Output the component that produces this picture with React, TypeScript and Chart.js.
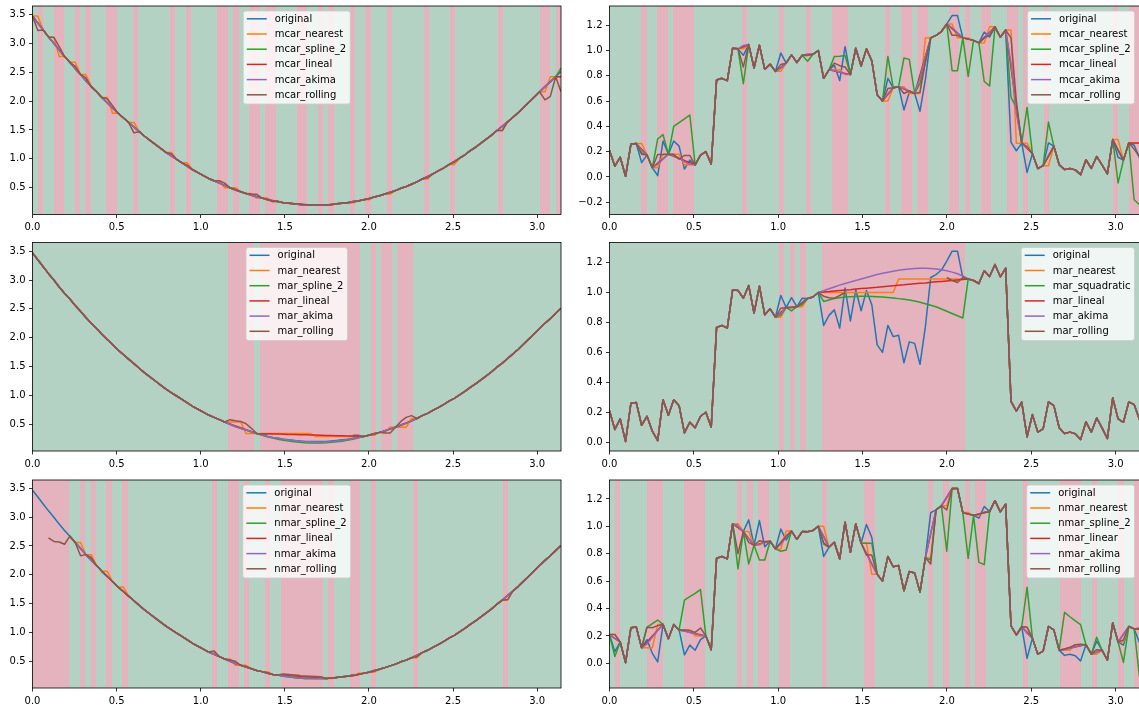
import React, { useEffect, useRef } from 'react';
import { Chart, registerables } from 'chart.js';

Chart.register(...registerables);

const FONT = "'DejaVu Sans', 'Liberation Sans', sans-serif";
const POINTS = 100;
const xs = Array.from({ length: POINTS }, (_, i) => (i * Math.PI) / (POINTS - 1));

const xTickValues = [0, 0.5, 1, 1.5, 2, 2.5, 3];
const curveTickValues = [0.5, 1, 1.5, 2, 2.5, 3, 3.5];
const noisyTickValuesTop = [-0.2, 0, 0.2, 0.4, 0.6, 0.8, 1, 1.2];
const noisyTickValues = [0, 0.2, 0.4, 0.6, 0.8, 1, 1.2];

const SERIES_COLORS = ['#1f77b4', '#ff7f0e', '#2ca02c', '#d62728', '#9467bd', '#8c564b'];
const MISSING_FILL = 'rgb(228,179,190)';
const PRESENT_FILL = 'rgb(179,210,195)';

// ---- original signals ----
const curveOriginal = [
  3.47, 3.35, 3.23, 3.11, 3.0, 2.88, 2.77, 2.67, 2.56, 2.46,
  2.35, 2.25, 2.16, 2.06, 1.97, 1.88, 1.79, 1.71, 1.63, 1.55,
  1.47, 1.39, 1.32, 1.25, 1.18, 1.11, 1.05, 0.99, 0.93, 0.87,
  0.81, 0.76, 0.71, 0.66, 0.62, 0.58, 0.54, 0.5, 0.46, 0.43,
  0.4, 0.37, 0.34, 0.32, 0.29, 0.27, 0.26, 0.24, 0.23, 0.22,
  0.21, 0.2, 0.2, 0.2, 0.2, 0.2, 0.21, 0.22, 0.23, 0.24,
  0.26, 0.27, 0.29, 0.31, 0.34, 0.36, 0.39, 0.42, 0.45, 0.49,
  0.52, 0.56, 0.6, 0.65, 0.69, 0.74, 0.79, 0.84, 0.9, 0.95,
  1.01, 1.07, 1.14, 1.2, 1.27, 1.34, 1.41, 1.49, 1.56, 1.64,
  1.72, 1.8, 1.89, 1.98, 2.07, 2.16, 2.25, 2.33, 2.42, 2.51,
];

const noisyOriginal = [
  0.21, 0.085, 0.156, 0.005, 0.26, 0.265, 0.113, 0.173, 0.073, 0.01,
  0.284, 0.18, 0.284, 0.244, 0.062, 0.133, 0.096, 0.173, 0.2, 0.1,
  0.767, 0.78, 0.762, 1.018, 1.013, 0.962, 1.047, 0.862, 1.042, 0.851,
  0.891, 0.835, 0.98, 0.9, 0.965, 0.905, 0.962, 0.96, 0.97, 1.0,
  0.78, 0.847, 0.884, 0.762, 1.03, 0.81, 1.018, 0.878, 1.013, 0.918,
  0.65, 0.6, 0.78, 0.705, 0.714, 0.53, 0.67, 0.66, 0.52, 0.77,
  1.1, 1.12, 1.15, 1.21, 1.276, 1.276, 1.1, 1.09, 1.08, 1.06,
  1.145, 1.107, 1.187, 1.105, 1.162, 0.273, 0.207, 0.267, 0.036, 0.184,
  0.067, 0.089, 0.269, 0.244, 0.096, 0.058, 0.067, 0.056, 0.018, 0.136,
  0.067, 0.162, 0.096, 0.024, 0.296, 0.156, 0.133, 0.269, 0.251, 0.151,
];

// ---- MCAR on the curve ----
const mcarCurveMissing = [1, 4, 5, 8, 10, 14, 15, 19, 26, 29, 35, 36, 38, 41, 42, 44, 45, 50, 51, 54, 56, 60, 63, 67, 74, 79, 88, 96, 97, 99];
const mcarCurveNearest = [3.47, 3.11, 2.77, 2.67, 2.46, 2.06, 1.79, 1.63, 1.11, 0.93, 0.62, 0.5, 0.5, 0.4, 0.32, 0.32, 0.26, 0.22, 0.2, 0.2, 0.2, 0.24, 0.29, 0.39, 0.65, 0.9, 1.49, 2.16, 2.42, 2.42];
const mcarCurveSpline = [3.35, 3.0, 2.88, 2.56, 2.35, 1.97, 1.88, 1.55, 1.05, 0.87, 0.58, 0.54, 0.46, 0.37, 0.34, 0.29, 0.27, 0.21, 0.2, 0.2, 0.21, 0.26, 0.31, 0.42, 0.69, 0.95, 1.56, 2.25, 2.34, 2.57];
const mcarCurveLineal = [3.35, 3.0, 2.89, 2.565, 2.355, 1.97, 1.88, 1.55, 1.05, 0.87, 0.58, 0.54, 0.465, 0.373, 0.347, 0.293, 0.277, 0.21, 0.2, 0.2, 0.205, 0.255, 0.315, 0.42, 0.695, 0.955, 1.565, 2.25, 2.335, 2.42];
const mcarCurveAkima = [3.35, 3.0, 2.88, 2.56, 2.35, 1.97, 1.88, 1.55, 1.05, 0.87, 0.58, 0.54, 0.46, 0.37, 0.34, 0.29, 0.27, 0.21, 0.2, 0.2, 0.21, 0.26, 0.31, 0.42, 0.69, 0.95, 1.56, 2.25, 2.34, null];
const mcarCurveRolling = [3.22, 3.1, 2.94, 2.6, 2.4, 2.04, 1.92, 1.45, 1.09, 0.89, 0.62, 0.58, 0.47, 0.39, 0.385, 0.3, 0.26, 0.22, 0.21, 0.2, 0.21, 0.25, 0.31, 0.41, 0.67, 0.94, 1.49, 2.02, 2.08, 2.16];

// ---- MAR on the curve ----
const marCurveMissing = [37, 38, 39, 40, 41, 43, 44, 45, 46, 47, 48, 49, 50, 51, 52, 53, 54, 55, 56, 57, 58, 59, 60, 61, 64, 66, 67, 69, 70, 71];
const marCurveNearest = [0.54, 0.54, 0.54, 0.34, 0.34, 0.34, 0.34, 0.34, 0.34, 0.34, 0.34, 0.34, 0.34, 0.34, 0.34, 0.29, 0.29, 0.29, 0.29, 0.29, 0.29, 0.29, 0.29, 0.29, 0.31, 0.36, 0.45, 0.45, 0.45, 0.6];
const marCurveSpline = [0.5, 0.46, 0.43, 0.4, 0.37, 0.31, 0.285, 0.262, 0.242, 0.225, 0.21, 0.198, 0.188, 0.181, 0.177, 0.175, 0.176, 0.18, 0.187, 0.196, 0.208, 0.222, 0.24, 0.26, 0.335, 0.385, 0.415, 0.48, 0.515, 0.555];
const marCurveLineal = [0.507, 0.473, 0.44, 0.407, 0.373, 0.3375, 0.335, 0.3325, 0.33, 0.3275, 0.325, 0.3225, 0.32, 0.3175, 0.315, 0.3125, 0.31, 0.3075, 0.305, 0.3025, 0.3, 0.2975, 0.295, 0.2925, 0.335, 0.39, 0.42, 0.4875, 0.525, 0.5625];
const marCurveAkima = [0.5, 0.46, 0.43, 0.4, 0.37, 0.318, 0.292, 0.272, 0.257, 0.242, 0.229, 0.218, 0.208, 0.201, 0.197, 0.195, 0.195, 0.197, 0.203, 0.212, 0.224, 0.238, 0.255, 0.272, 0.335, 0.39, 0.42, 0.49, 0.52, 0.56];
const marCurveRolling = [0.58, 0.56, 0.55, 0.51, 0.43, 0.33, 0.33, null, null, null, null, null, null, null, null, null, null, null, null, null, null, null, 0.31, 0.31, 0.33, 0.35, 0.35, 0.55, 0.62, 0.65];

// ---- NMAR on the curve ----
const nmarCurveMissing = [0, 1, 2, 3, 4, 5, 6, 9, 11, 14, 17, 34, 37, 38, 40, 44, 47, 48, 49, 50, 51, 52, 53, 54, 56, 60, 61, 64, 72, 89];
const nmarCurveNearest = [null, null, null, null, null, null, null, 2.56, 2.35, 2.06, 1.79, 0.66, 0.54, 0.43, 0.43, 0.32, 0.26, 0.26, 0.26, 0.26, 0.2, 0.2, 0.2, 0.2, 0.2, 0.24, 0.29, 0.31, 0.56, 1.56];
const nmarCurveSpline = [null, null, null, null, null, null, null, 2.46, 2.25, 1.97, 1.71, 0.62, 0.5, 0.46, 0.4, 0.29, 0.24, 0.23, 0.22, 0.21, 0.2, 0.2, 0.2, 0.2, 0.21, 0.26, 0.27, 0.34, 0.6, 1.64];
const nmarCurveLineal = [null, null, null, null, null, null, null, 2.455, 2.255, 1.97, 1.71, 0.62, 0.503, 0.467, 0.4, 0.295, 0.253, 0.247, 0.24, 0.233, 0.227, 0.22, 0.213, 0.207, 0.21, 0.255, 0.272, 0.335, 0.605, 1.645];
const nmarCurveAkima = [null, null, null, null, null, null, null, 2.46, 2.25, 1.97, 1.71, 0.62, 0.5, 0.46, 0.4, 0.29, 0.245, 0.235, 0.225, 0.215, 0.21, 0.205, 0.2, 0.2, 0.21, 0.26, 0.27, 0.34, 0.6, 1.64];
const nmarCurveRolling = [null, null, null, 2.64, 2.58, 2.57, 2.53, 2.33, 2.3, 1.97, 1.71, 0.68, 0.52, 0.5, 0.41, 0.3, 0.28, 0.27, 0.26, 0.25, 0.245, 0.24, 0.235, 0.23, 0.21, 0.25, 0.27, 0.33, 0.58, 1.57];

// ---- MCAR on the noisy signal ----
const mcarNoisyMissing = [6, 9, 10, 12, 13, 14, 15, 25, 32, 37, 42, 43, 44, 52, 55, 56, 58, 59, 64, 65, 67, 70, 71, 75, 76, 78, 82, 95, 98, 99];
const mcarNoisyNearest = [0.265, 0.073, 0.18, 0.18, 0.18, 0.096, 0.096, 1.013, 0.835, 0.962, 0.847, 0.847, 0.81, 0.6, 0.714, 0.66, 0.66, 1.1, 1.21, 1.1, 1.1, 1.06, 1.187, 1.162, 0.267, 0.267, 0.089, 0.296, 0.269, 0.269];
const mcarNoisySpline = [0.19, 0.3, 0.335, 0.4, 0.43, 0.46, 0.49, 0.737, 0.86, 0.915, 0.953, 0.955, 0.96, 0.953, 0.94, 0.93, 0.74, 0.9, 0.84, 0.84, 0.795, 0.755, 0.72, 0.63, 0.55, 0.55, 0.434, -0.047, -0.18, -0.22];
const mcarNoisyLineal = [0.219, 0.109, 0.144, 0.163, 0.146, 0.13, 0.113, 1.03, 0.867, 0.966, 0.838, 0.828, 0.819, 0.652, 0.696, 0.678, 0.807, 0.953, 1.173, 1.137, 1.09, 1.102, 1.145, 0.864, 0.565, 0.226, 0.167, 0.215, 0.269, 0.269];
const mcarNoisyAkima = [0.21, 0.1, 0.14, 0.17, 0.15, 0.12, 0.1, 1.04, 0.86, 0.973, 0.84, 0.83, 0.815, 0.66, 0.7, 0.68, 0.78, 0.95, 1.18, 1.14, 1.09, 1.1, 1.14, 0.9, 0.5, 0.23, 0.17, 0.21, null, null];
const mcarNoisyRolling = [0.18, 0.177, 0.177, 0.18, 0.14, 0.17, 0.17, 0.87, 0.89, 0.965, 0.9, 0.88, 0.87, 0.7, 0.66, 0.68, 0.67, 0.91, 1.12, 1.12, 1.09, 1.1, 1.12, 1.1, 0.6, 0.24, 0.16, 0.21, 0.22, 0.16];

// ---- MAR on the noisy signal ----
const marNoisyMissing = [32, 34, 36, 40, 41, 42, 43, 44, 45, 46, 47, 48, 49, 50, 51, 52, 53, 54, 55, 56, 57, 58, 59, 60, 61, 62, 63, 64, 65, 66];
const marNoisyNearest = [0.835, 0.9, 0.905, 1.0, 1.0, 1.0, 1.0, 1.0, 1.0, 1.0, 1.0, 1.0, 1.0, 1.0, 1.0, 1.0, 1.0, 1.09, 1.09, 1.09, 1.09, 1.09, 1.09, 1.09, 1.09, 1.09, 1.09, 1.09, 1.09, 1.09];
const marNoisySpline = [0.85, 0.877, 0.92, 0.94, 0.95, 0.96, 0.965, 0.97, 0.972, 0.974, 0.975, 0.975, 0.974, 0.972, 0.97, 0.967, 0.963, 0.959, 0.955, 0.95, 0.943, 0.935, 0.925, 0.915, 0.905, 0.89, 0.875, 0.86, 0.845, 0.83];
const marNoisyLineal = [0.867, 0.902, 0.933, 1.003, 1.006, 1.01, 1.013, 1.016, 1.019, 1.023, 1.026, 1.029, 1.032, 1.035, 1.039, 1.042, 1.045, 1.048, 1.051, 1.055, 1.058, 1.061, 1.064, 1.068, 1.071, 1.074, 1.077, 1.08, 1.084, 1.087];
const marNoisyAkima = [0.86, 0.9, 0.935, 1.012, 1.025, 1.037, 1.049, 1.06, 1.07, 1.08, 1.09, 1.1, 1.11, 1.12, 1.128, 1.135, 1.142, 1.148, 1.153, 1.157, 1.16, 1.162, 1.162, 1.16, 1.157, 1.152, 1.145, 1.136, 1.125, 1.11];
const marNoisyRolling = [0.895, 0.9, 0.93, 0.975, 0.965, 0.962, 0.98, 1.0, null, null, null, null, null, null, null, null, null, null, null, null, null, null, null, null, null, null, 1.1, 1.08, 1.067, 1.1];

// ---- NMAR on the noisy signal ----
const nmarNoisyMissing = [1, 7, 8, 9, 14, 15, 16, 17, 24, 26, 28, 29, 32, 33, 40, 48, 49, 60, 63, 67, 69, 70, 78, 85, 86, 87, 88, 91, 96, 99];
const nmarNoisyNearest = [0.21, 0.113, 0.113, 0.284, 0.244, 0.244, 0.2, 0.2, 1.018, 0.962, 0.862, 0.891, 0.835, 0.965, 1.0, 0.878, 0.65, 0.77, 1.15, 1.1, 1.08, 1.107, 0.267, 0.096, 0.096, 0.136, 0.136, 0.067, 0.156, 0.251];
const nmarNoisySpline = [0.05, 0.263, 0.29, 0.316, 0.462, 0.487, 0.51, 0.538, 0.69, 0.725, 0.754, 0.754, 0.818, 0.827, 0.871, 0.876, 0.876, 0.754, 0.818, 0.766, 0.737, 0.72, 0.555, 0.372, 0.34, 0.31, 0.282, 0.19, 0.007, -0.1];
const nmarNoisyLinear = [0.183, 0.156, 0.199, 0.241, 0.235, 0.226, 0.218, 0.209, 0.99, 0.912, 0.872, 0.881, 0.878, 0.922, 0.923, 0.802, 0.726, 0.945, 1.213, 1.09, 1.089, 1.098, 0.226, 0.104, 0.112, 0.12, 0.128, 0.082, 0.213, 0.251];
const nmarNoisyAkima = [0.18, 0.14, 0.19, 0.24, 0.235, 0.225, 0.215, 0.205, 1.0, 0.91, 0.87, 0.88, 0.87, 0.92, 0.93, 0.8, 0.72, 0.95, 1.21, 1.09, 1.09, 1.1, 0.22, 0.1, 0.11, 0.12, 0.13, 0.08, 0.21, null];
const nmarNoisyRolling = [0.21, 0.263, 0.26, 0.275, 0.243, 0.24, 0.226, 0.258, 0.8, 0.883, 0.895, 0.888, 0.883, 0.93, 0.88, 0.79, 0.79, 0.725, 1.12, 1.09, 1.09, 1.1, 0.263, 0.105, 0.117, 0.136, 0.14, 0.1, 0.17, 0.258];

const mcarLabels = ['original', 'mcar_nearest', 'mcar_spline_2', 'mcar_lineal', 'mcar_akima', 'mcar_rolling'];
const marCurveLabels = ['original', 'mar_nearest', 'mar_spline_2', 'mar_lineal', 'mar_akima', 'mar_rolling'];
const marNoisyLabels = ['original', 'mar_nearest', 'mar_squadratic', 'mar_lineal', 'mar_akima', 'mar_rolling'];
const nmarCurveLabels = ['original', 'nmar_nearest', 'nmar_spline_2', 'nmar_lineal', 'nmar_akima', 'nmar_rolling'];
const nmarNoisyLabels = ['original', 'nmar_nearest', 'nmar_spline_2', 'nmar_linear', 'nmar_akima', 'nmar_rolling'];

type Val = number | null;
type Panel = {
  left: number;
  top: number;
  width: number;
  height: number;
  area: [number, number, number, number];
  yMin: number;
  yMax: number;
  yTicks: number[];
  original: number[];
  missing: number[];
  labels: string[];
  imputed: Val[][];
  legend: 'center' | 'right';
};

const LEFT_AREA_X: [number, number] = [32.5, 561];
const RIGHT_AREA_X: [number, number] = [609.5, 1139.5];
const ROWS = [
  { top: 0, height: 236, areaTop: 6, areaBottom: 214.5 },
  { top: 236, height: 236, areaTop: 242.5, areaBottom: 451 },
  { top: 472, height: 236, areaTop: 480, areaBottom: 688 },
];

function leftPanel(row: number, rest: Omit<Panel, 'left' | 'top' | 'width' | 'height' | 'area' | 'legend'>): Panel {
  const r = ROWS[row];
  return { ...rest, left: 0, top: r.top, width: 570, height: r.height, area: [LEFT_AREA_X[0], r.areaTop, LEFT_AREA_X[1], r.areaBottom], legend: 'center' };
}
function rightPanel(row: number, rest: Omit<Panel, 'left' | 'top' | 'width' | 'height' | 'area' | 'legend'>): Panel {
  const r = ROWS[row];
  return { ...rest, left: 570, top: r.top, width: 571, height: r.height, area: [RIGHT_AREA_X[0], r.areaTop, RIGHT_AREA_X[1], r.areaBottom], legend: 'right' };
}

const PANELS: Panel[] = [
  leftPanel(0, {
    yMin: 0.036, yMax: 3.645, yTicks: curveTickValues, original: curveOriginal, missing: mcarCurveMissing, labels: mcarLabels,
    imputed: [mcarCurveNearest, mcarCurveSpline, mcarCurveLineal, mcarCurveAkima, mcarCurveRolling],
  }),
  rightPanel(0, {
    yMin: -0.297, yMax: 1.352, yTicks: noisyTickValuesTop, original: noisyOriginal, missing: mcarNoisyMissing, labels: mcarLabels,
    imputed: [mcarNoisyNearest, mcarNoisySpline, mcarNoisyLineal, mcarNoisyAkima, mcarNoisyRolling],
  }),
  leftPanel(1, {
    yMin: 0.037, yMax: 3.65, yTicks: curveTickValues, original: curveOriginal, missing: marCurveMissing, labels: marCurveLabels,
    imputed: [marCurveNearest, marCurveSpline, marCurveLineal, marCurveAkima, marCurveRolling],
  }),
  rightPanel(1, {
    yMin: -0.059, yMax: 1.334, yTicks: noisyTickValues, original: noisyOriginal, missing: marNoisyMissing, labels: marNoisyLabels,
    imputed: [marNoisyNearest, marNoisySpline, marNoisyLineal, marNoisyAkima, marNoisyRolling],
  }),
  leftPanel(2, {
    yMin: 0.036, yMax: 3.645, yTicks: curveTickValues, original: curveOriginal, missing: nmarCurveMissing, labels: nmarCurveLabels,
    imputed: [nmarCurveNearest, nmarCurveSpline, nmarCurveLineal, nmarCurveAkima, nmarCurveRolling],
  }),
  rightPanel(2, {
    yMin: -0.18, yMax: 1.338, yTicks: noisyTickValues, original: noisyOriginal, missing: nmarNoisyMissing, labels: nmarNoisyLabels,
    imputed: [nmarNoisyNearest, nmarNoisySpline, nmarNoisyLinear, nmarNoisyAkima, nmarNoisyRolling],
  }),
];

function fmtTick(v: number): string {
  const s = (Math.abs(v) < 1e-9 ? 0 : v).toFixed(1);
  return s.replace('-', '\u2212');
}

function drawLegend(ctx: CanvasRenderingContext2D, area: any, labels: string[], loc: 'center' | 'right') {
  ctx.save();
  ctx.font = `10px ${FONT}`;
  const textW = Math.max(...labels.map((l) => ctx.measureText(l).width));
  const w = 3.5 + 20 + 8 + textW + 4;
  const h = 93;
  const x = loc === 'center' ? (area.left + area.right) / 2 - w / 2 : area.right - 5 - w;
  const y = area.top + 5;
  const r = 2.5;
  ctx.beginPath();
  ctx.moveTo(x + r, y);
  ctx.lineTo(x + w - r, y);
  ctx.arcTo(x + w, y, x + w, y + r, r);
  ctx.lineTo(x + w, y + h - r);
  ctx.arcTo(x + w, y + h, x + w - r, y + h, r);
  ctx.lineTo(x + r, y + h);
  ctx.arcTo(x, y + h, x, y + h - r, r);
  ctx.lineTo(x, y + r);
  ctx.arcTo(x, y, x + r, y, r);
  ctx.closePath();
  ctx.fillStyle = 'rgba(255,255,255,0.8)';
  ctx.fill();
  ctx.strokeStyle = 'rgba(204,204,204,0.8)';
  ctx.lineWidth = 1;
  ctx.stroke();
  labels.forEach((label, k) => {
    const cy = y + 7.8 + 15.2 * k;
    ctx.strokeStyle = SERIES_COLORS[k];
    ctx.lineWidth = 1.5;
    ctx.beginPath();
    ctx.moveTo(x + 3.5, cy);
    ctx.lineTo(x + 23.5, cy);
    ctx.stroke();
    ctx.fillStyle = '#000';
    ctx.textBaseline = 'middle';
    ctx.textAlign = 'left';
    ctx.fillText(label, x + 31.5, cy + 0.5);
  });
  ctx.restore();
}

function PanelChart({ panel }: { panel: Panel }) {
  const ref = useRef<HTMLCanvasElement>(null);

  useEffect(() => {
    const canvas = ref.current;
    if (!canvas) return;
    const p = panel;
    const [aL, aT, aR, aB] = p.area;
    const yAxisWidth = aL - p.left;
    const xAxisHeight = p.top + p.height - aB;
    const missingSet = new Set(p.missing);

    const series: Val[][] = [
      p.original,
      ...p.imputed.map((vals) => {
        const out: Val[] = p.original.slice();
        p.missing.forEach((idx, k) => {
          out[idx] = vals[k];
        });
        return out;
      }),
    ];

    const datasets = series.map((vals, k) => ({
      label: p.labels[k],
      data: vals.map((v, i) => ({ x: xs[i], y: v })),
      borderColor: SERIES_COLORS[k],
      backgroundColor: SERIES_COLORS[k],
      borderWidth: 1.5,
      borderJoinStyle: 'round' as const,
      pointRadius: 0,
      pointHoverRadius: 0,
      tension: 0,
      fill: false,
      spanGaps: false,
      order: series.length - 1 - k,
    }));

    const decor = {
      id: 'panelDecor',
      beforeDatasetsDraw(chart: any) {
        const { ctx, chartArea: a, scales } = chart;
        const xScale = scales.x;
        ctx.save();
        ctx.beginPath();
        ctx.rect(a.left, a.top, a.right - a.left, a.bottom - a.top);
        ctx.clip();
        // one cell per sample: pink where the sample was removed, green where kept
        let i = 0;
        while (i < POINTS) {
          const m = missingSet.has(i);
          let j = i;
          while (j + 1 < POINTS && missingSet.has(j + 1) === m) j++;
          const x0 = Math.round(xScale.getPixelForValue((i * Math.PI) / POINTS));
          const x1 = Math.round(xScale.getPixelForValue(((j + 1) * Math.PI) / POINTS));
          ctx.fillStyle = m ? MISSING_FILL : PRESENT_FILL;
          ctx.fillRect(i === 0 ? a.left - 1 : x0, a.top - 1, (j + 1 === POINTS ? a.right + 1 : x1) - (i === 0 ? a.left - 1 : x0), a.bottom - a.top + 2);
          i = j + 1;
        }
        ctx.restore();
      },
      afterDatasetsDraw(chart: any) {
        const { ctx, chartArea: a } = chart;
        ctx.save();
        ctx.strokeStyle = '#000';
        ctx.lineWidth = 0.8;
        ctx.strokeRect(a.left, a.top, a.right - a.left, a.bottom - a.top);
        ctx.restore();
        drawLegend(ctx, a, p.labels, p.legend);
      },
    };

    const tickFont = { family: FONT, size: 10 };
    const chart = new Chart(canvas, {
      type: 'line',
      data: { datasets: datasets as any },
      options: {
        animation: false,
        responsive: false,
        maintainAspectRatio: false,
        devicePixelRatio: 1,
        events: [],
        layout: { padding: { top: aT - p.top, right: p.left + p.width - aR, left: 0, bottom: 0 } },
        plugins: { legend: { display: false }, tooltip: { enabled: false } },
        scales: {
          x: {
            type: 'linear',
            min: 0,
            max: Math.PI,
            afterBuildTicks: (s: any) => {
              s.ticks = xTickValues.map((v) => ({ value: v }));
            },
            afterFit: (s: any) => {
              s.height = xAxisHeight;
              s.paddingLeft = 0;
              s.paddingRight = 0;
              s.paddingTop = 0;
              s.paddingBottom = 0;
            },
            ticks: {
              callback: (v: any) => fmtTick(Number(v)),
              autoSkip: false,
              maxRotation: 0,
              minRotation: 0,
              padding: 3.5,
              color: '#000',
              font: tickFont,
            },
            grid: { drawOnChartArea: false, drawTicks: true, tickLength: 3.5, tickColor: '#000', tickWidth: 0.8 },
            border: { display: false },
          },
          y: {
            type: 'linear',
            min: p.yMin,
            max: p.yMax,
            afterBuildTicks: (s: any) => {
              s.ticks = p.yTicks.map((v) => ({ value: v }));
            },
            afterFit: (s: any) => {
              s.width = yAxisWidth;
              s.paddingLeft = 0;
              s.paddingRight = 0;
              s.paddingTop = 0;
              s.paddingBottom = 0;
            },
            ticks: {
              callback: (v: any) => fmtTick(Number(v)),
              autoSkip: false,
              padding: 3.5,
              color: '#000',
              font: tickFont,
            },
            grid: { drawOnChartArea: false, drawTicks: true, tickLength: 3.5, tickColor: '#000', tickWidth: 0.8 },
            border: { display: false },
          },
        },
      } as any,
      plugins: [decor],
    });

    return () => chart.destroy();
  }, [panel]);

  return (
    <canvas
      ref={ref}
      width={panel.width}
      height={panel.height}
      style={{ position: 'absolute', left: panel.left, top: panel.top, width: panel.width, height: panel.height }}
    />
  );
}

export default function App() {
  return (
    <div style={{ position: 'fixed', left: 0, top: 0, width: 1139, height: 708, overflow: 'hidden', background: '#fff' }}>
      {PANELS.map((panel, i) => (
        <PanelChart key={i} panel={panel} />
      ))}
    </div>
  );
}
